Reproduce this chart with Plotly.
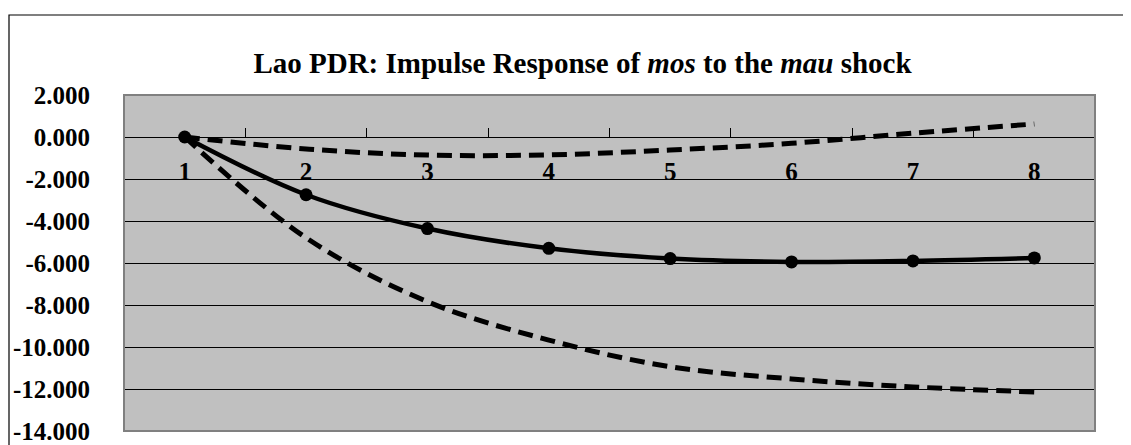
import plotly.graph_objects as go

periods = ["1", "2", "3", "4", "5", "6", "7", "8"]
response = [0.0, -2.75, -4.36, -5.30, -5.79, -5.95, -5.90, -5.76]
upper_band = [0.0, -0.57, -0.86, -0.85, -0.62, -0.30, 0.18, 0.62]
lower_band = [0.0, -4.80, -7.84, -9.67, -10.94, -11.52, -11.90, -12.14]
y_ticks = [2, 0, -2, -4, -6, -8, -10, -12, -14]
y_tick_text = [f"{v:.3f}" for v in y_ticks]

W, H = 1131, 445
OFF = 8  # page body margin
L, R, T, B = 124 - OFF, 1095 - OFF, 95 - OFF, 431 - OFF
FONT = "Liberation Serif"

fig = go.Figure()
for vals in (upper_band, lower_band):
    fig.add_trace(go.Scatter(
        x=periods, y=vals, mode="lines",
        line=dict(color="black", width=5, dash="15px,8px", shape="spline", smoothing=1.0),
        hoverinfo="skip", showlegend=False))
fig.add_trace(go.Scatter(
    x=periods, y=response, mode="lines+markers",
    line=dict(color="black", width=4.5, shape="spline", smoothing=1.0),
    marker=dict(color="black", size=13, symbol="circle"),
    showlegend=False))

def px_to_paper_x(px):
    return (px - OFF - L) / (R - L)

def px_to_paper_y(py):
    return (B - (py - OFF)) / (B - T)

# outer chart border
fig.add_shape(type="rect", xref="paper", yref="paper",
              x0=px_to_paper_x(9), x1=px_to_paper_x(1170),
              y0=px_to_paper_y(480), y1=px_to_paper_y(15),
              line=dict(color="black", width=1.2), fillcolor="rgba(0,0,0,0)", layer="below")
# plot area border
fig.add_shape(type="rect", xref="paper", yref="paper", x0=0, x1=1, y0=0, y1=1,
              line=dict(color="#808080", width=2), fillcolor="rgba(0,0,0,0)", layer="above")

fig.update_layout(
    width=W, height=H,
    margin=dict(l=L, r=W - R, t=T, b=H - B, pad=0, autoexpand=False),
    paper_bgcolor="white", plot_bgcolor="#C0C0C0",
    title=dict(
        text="<b>Lao PDR: Impulse Response of <i>mos</i> to the <i>mau</i> shock</b>",
        x=(582.5 - OFF) / W, xanchor="center", y=1 - (63 - OFF) / H, yanchor="middle",
        font=dict(family=FONT, size=29, color="black")),
    xaxis=dict(
        type="category", categoryorder="array", categoryarray=periods,
        range=[-0.5, 7.5], anchor="free", position=14 / 16, side="bottom",
        showline=True, linecolor="black", linewidth=1,
        ticks="inside", ticklen=9, tickcolor="black", tickwidth=1,
        tickson="boundaries", showgrid=False, zeroline=False, automargin=False,
        ticklabelstandoff=12,
        tickfont=dict(family=FONT, size=25, color="black", weight="bold")),
    yaxis=dict(
        range=[-14, 2], tickmode="array", tickvals=y_ticks, ticktext=y_tick_text,
        showgrid=True, gridcolor="black", gridwidth=1, zeroline=False, automargin=False,
        showline=False, ticks="", ticklabelstandoff=33,
        tickfont=dict(family=FONT, size=25, color="black", weight="bold")),
)

fig.write_html("out.html")
